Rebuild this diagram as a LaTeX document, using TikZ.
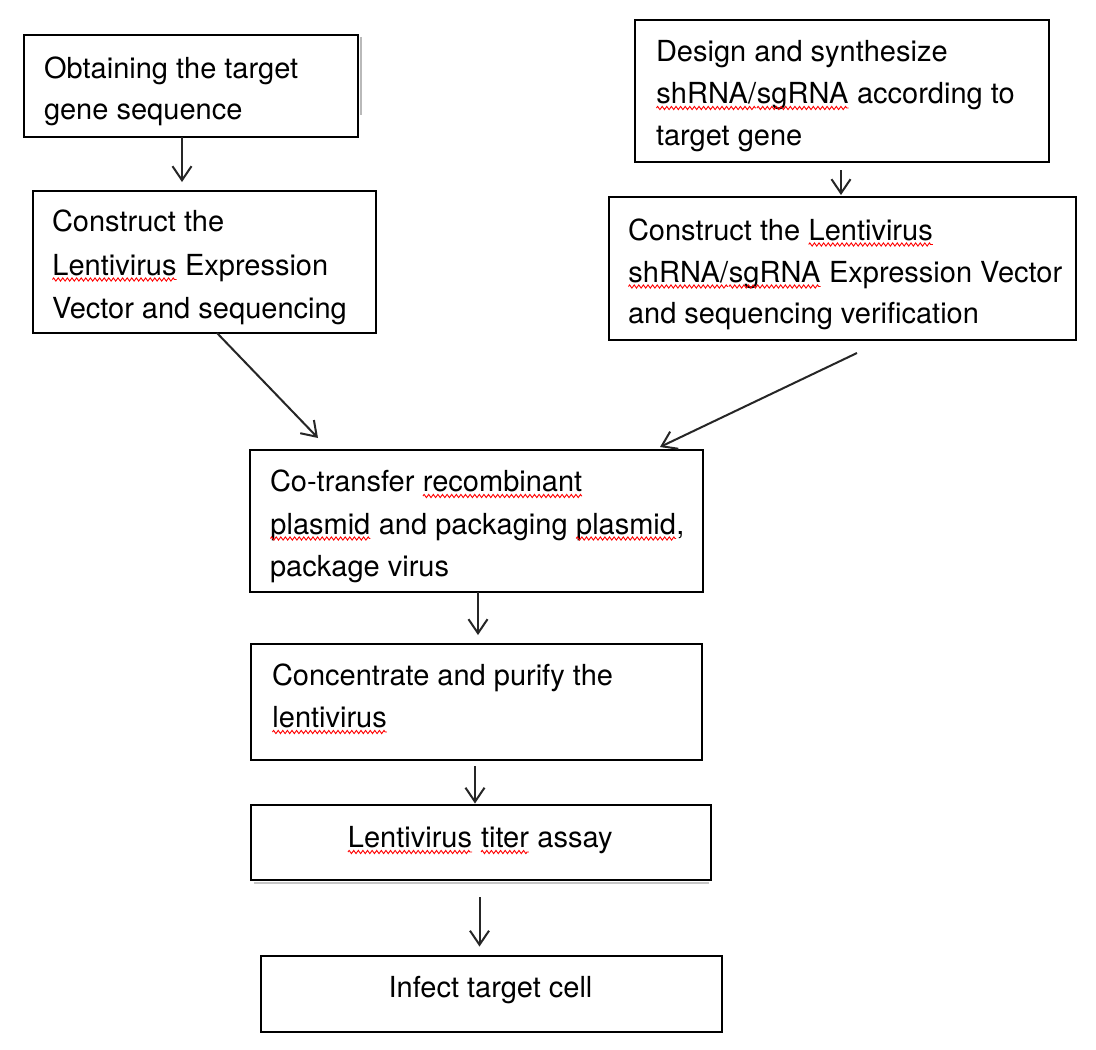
\documentclass[tikz,border=0pt]{standalone}
\usepackage{fontspec}
\setmainfont{TeX Gyre Heros}
\usetikzlibrary{arrows.meta,decorations.pathmorphing}
\tikzset{
  wavered/.style={draw=red, line width=0.9pt, decorate,
    decoration={zigzag, amplitude=1.6pt, segment length=4.6pt}},
  box/.style={draw=black, line width=2.5pt, rectangle, inner sep=0pt, outer sep=0pt},
  txt/.style={anchor=base west, inner sep=0pt, outer sep=0pt,
    font=\fontsize{29}{34}\selectfont},
  ctxt/.style={txt, anchor=base},
  arr/.style={draw=black!85, line width=2pt, -{Straight Barb[length=14pt,width=19pt]}},
}
\newcommand{\wv}[1]{\tikz[baseline=(wvn.base)]{\node[inner sep=0pt,outer sep=0pt,anchor=base] (wvn) {#1};\draw[wavered] ([yshift=-4.5pt]wvn.base west) -- ([yshift=-4.5pt]wvn.base east);}}
\begin{document}
\begin{tikzpicture}[x=1pt,y=-1pt]
\useasboundingbox[fill=white] (0,0) rectangle (1096,1050);
% shadows
\draw[gray!55, line width=2pt] (361,37) -- (361,115);
\draw[gray!45, line width=1.5pt] (254,883) -- (709,883);
% boxes
\node[box, minimum width=334, minimum height=102] (b1) at (191,86) {};
\node[box, minimum width=343, minimum height=142] (b2) at (204.5,262) {};
\node[box, minimum width=414, minimum height=142] (b3) at (842,91) {};
\node[box, minimum width=467, minimum height=143] (b4) at (842.5,268.5) {};
\node[box, minimum width=453, minimum height=142] (b5) at (476.5,521) {};
\node[box, minimum width=451, minimum height=116] (b6) at (476.5,702) {};
\node[box, minimum width=460, minimum height=75] (b7) at (481,842.5) {};
\node[box, minimum width=461, minimum height=76] (b8) at (491.5,994) {};
% texts
\node[txt] (t1a) at (44,78) {Obtaining the target};
\node[txt] (t1b) at (44,119.5) {gene sequence};
\node[txt] (t2a) at (52,231.5) {Construct the};
\node[txt] (t2b) at (52,275) {\wv{Lentivirus} Expression};
\node[txt] (t2c) at (52,318) {Vector and sequencing};
\node[txt] (t3a) at (656,61.5) {Design and synthesize};
\node[txt] (t3b) at (656,103.5) {\wv{shRNA/}\wv{sgRNA} according to};
\node[txt] (t3c) at (656,145) {target gene};
\node[txt] (t4a) at (628,240) {Construct the \wv{Lentivirus}};
\node[txt] (t4b) at (628,282) {\wv{shRNA/}\wv{sgRNA} Expression Vector};
\node[txt] (t4c) at (628,323.5) {and sequencing verification};
\node[txt] (t5a) at (270,491.5) {Co-transfer \wv{recombinant}};
\node[txt] (t5b) at (270,534) {\wv{plasmid} and packaging \wv{plasmid},};
\node[txt] (t5c) at (270,576.5) {package virus};
\node[txt] (t6a) at (272,685.5) {Concentrate and purify the};
\node[txt] (t6b) at (272,727.5) {\wv{lentivirus}};
\node[ctxt] (t7) at (480,847.5) {\wv{Lentivirus} \wv{titer} assay};
\node[ctxt] (t8) at (490.5,997.5) {Infect target cell};
% arrows
\draw[arr] ([xshift=-9pt]b1.south) -- ([xshift=-22.5pt,yshift=9pt]b2.north);
\draw[arr] ([xshift=12.5pt]b2.south) -- ([xshift=-158.5pt,yshift=12pt]b5.north);
\draw[arr] ([xshift=14.5pt,yshift=-13pt]b4.south) -- ([xshift=183.5pt,yshift=3pt]b5.north);
\draw[arr] ([xshift=-1pt,yshift=-8pt]b3.south) -- ([xshift=-1.5pt,yshift=2pt]b4.north);
\draw[arr] ([xshift=1.5pt]b5.south) -- ([xshift=1.5pt,yshift=9pt]b6.north);
\draw[arr] ([xshift=-1.5pt,yshift=-6pt]b6.south) -- ([xshift=-6pt,yshift=1.5pt]b7.north);
\draw[arr] ([xshift=-1.5pt,yshift=-17pt]b7.south) -- ([xshift=-12pt,yshift=9.5pt]b8.north);
\end{tikzpicture}
\end{document}
